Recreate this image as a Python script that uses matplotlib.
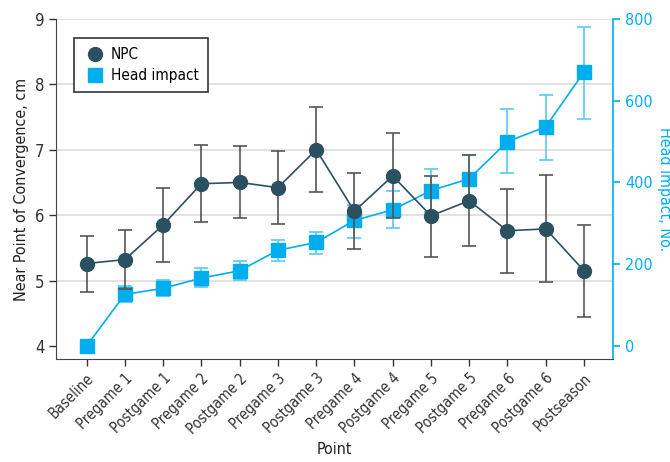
import matplotlib
matplotlib.use('Agg')
import matplotlib.pyplot as plt
import numpy as np

plt.rcParams['font.family'] = ['DejaVu Sans']
plt.rcParams['font.stretch'] = 'condensed'

points = ['Baseline', 'Pregame 1', 'Postgame 1', 'Pregame 2', 'Postgame 2',
          'Pregame 3', 'Postgame 3', 'Pregame 4', 'Postgame 4', 'Pregame 5',
          'Postgame 5', 'Pregame 6', 'Postgame 6', 'Postseason']

npc = [5.26, 5.32, 5.85, 6.48, 6.50, 6.42, 7.00, 6.06, 6.60, 5.99, 6.22, 5.76, 5.79, 5.15]
npc_lo = [4.82, 4.87, 5.28, 5.89, 5.95, 5.86, 6.35, 5.48, 5.96, 5.36, 5.53, 5.11, 4.98, 4.44]
npc_hi = [5.68, 5.77, 6.41, 7.07, 7.06, 6.98, 7.66, 6.64, 7.25, 6.60, 6.92, 6.40, 6.61, 5.85]

impact = [0, 126, 141, 166, 184, 234, 253, 307, 333, 380, 409, 500, 536, 670]
impact_lo = [0, 107, 121, 144, 161, 207, 224, 265, 288, 327, 352, 422, 456, 556]
impact_hi = [0, 147, 161, 190, 207, 260, 278, 345, 379, 434, 466, 579, 615, 780]

dark = '#2b5160'
cyan = '#00aeef'
x = np.arange(len(points))

fig = plt.figure(figsize=(6.7, 4.62), dpi=100)
ax = fig.add_axes([0.0836, 0.223, 0.8314, 0.736])
ax2 = ax.twinx()

ax.set_zorder(ax2.get_zorder() + 1)
ax.patch.set_visible(False)

# head impacts on the right axis
err2 = [np.array(impact) - np.array(impact_lo), np.array(impact_hi) - np.array(impact)]
ax2.errorbar(x[1:], impact[1:], yerr=[err2[0][1:], err2[1][1:]], fmt='none',
             ecolor='#5cc8f0', elinewidth=1.2, capsize=5, capthick=1.2, zorder=2)
ax2.plot(x, impact, color=cyan, lw=1.2, marker='s', ms=9.5, zorder=3)
ax2.set_ylim(-32, 800)
ax2.set_yticks([0, 200, 400, 600, 800])
ax2.tick_params(axis='y', colors=cyan, labelsize=11.5, length=5, width=1.2)
ax2.set_ylabel('Head impact, No.', color=cyan, fontsize=11.5, rotation=270,
               va='center', ha='center')
ax2.yaxis.set_label_coords(1.092, 0.5)
for s in ['top', 'left', 'bottom']:
    ax2.spines[s].set_visible(False)
ax2.spines['right'].set_color(cyan)
ax2.spines['right'].set_linewidth(1.2)

# NPC on the left axis
err1 = [np.array(npc) - np.array(npc_lo), np.array(npc_hi) - np.array(npc)]
ax.errorbar(x, npc, yerr=err1, fmt='none', ecolor='#555555', elinewidth=1.2,
            capsize=5, capthick=1.2, zorder=2)
ax.plot(x, npc, color=dark, lw=1.2, marker='o', ms=10, zorder=3)

ax.set_ylim(3.8, 9)
ax.set_yticks([4, 5, 6, 7, 8, 9])
ax.set_xlim(-0.8, 13.76)
ax.set_xticks(x)
ax.set_xticklabels(points, rotation=45, ha='right', rotation_mode='anchor', fontsize=10.5, color='#333333')
ax.tick_params(axis='y', labelsize=12, length=5, width=1, colors='#333333')
ax.tick_params(axis='x', length=5, width=1, colors='#333333')
ax.set_ylabel('Near Point of Convergence, cm', fontsize=11.5, color='#222222')
ax.set_xlabel('Point', fontsize=11.5, color='#222222', labelpad=4)
for yy in [5, 6, 7, 8, 9]:
    ax2.axhline((yy - 4) * 160, color='#dddddd', lw=1.2, zorder=0)
ax.spines['top'].set_visible(False)
ax.spines['right'].set_visible(False)
ax.spines['left'].set_color('#444444')
ax.spines['bottom'].set_color('#444444')

h1 = plt.Line2D([], [], color=dark, marker='o', ms=10, ls='none')
h2 = plt.Line2D([], [], color=cyan, marker='s', ms=9.5, ls='none')
leg = ax.legend([h1, h2], ['NPC', 'Head impact'], loc='upper left',
                bbox_to_anchor=(0.032, 0.944), fontsize=11, fancybox=False,
                edgecolor='#333333', framealpha=1, handletextpad=0.2, borderpad=0.6,
                handlelength=1.6, labelspacing=0.4, borderaxespad=0)
leg.get_frame().set_linewidth(1.2)

fig.savefig('out.png', dpi=100)
